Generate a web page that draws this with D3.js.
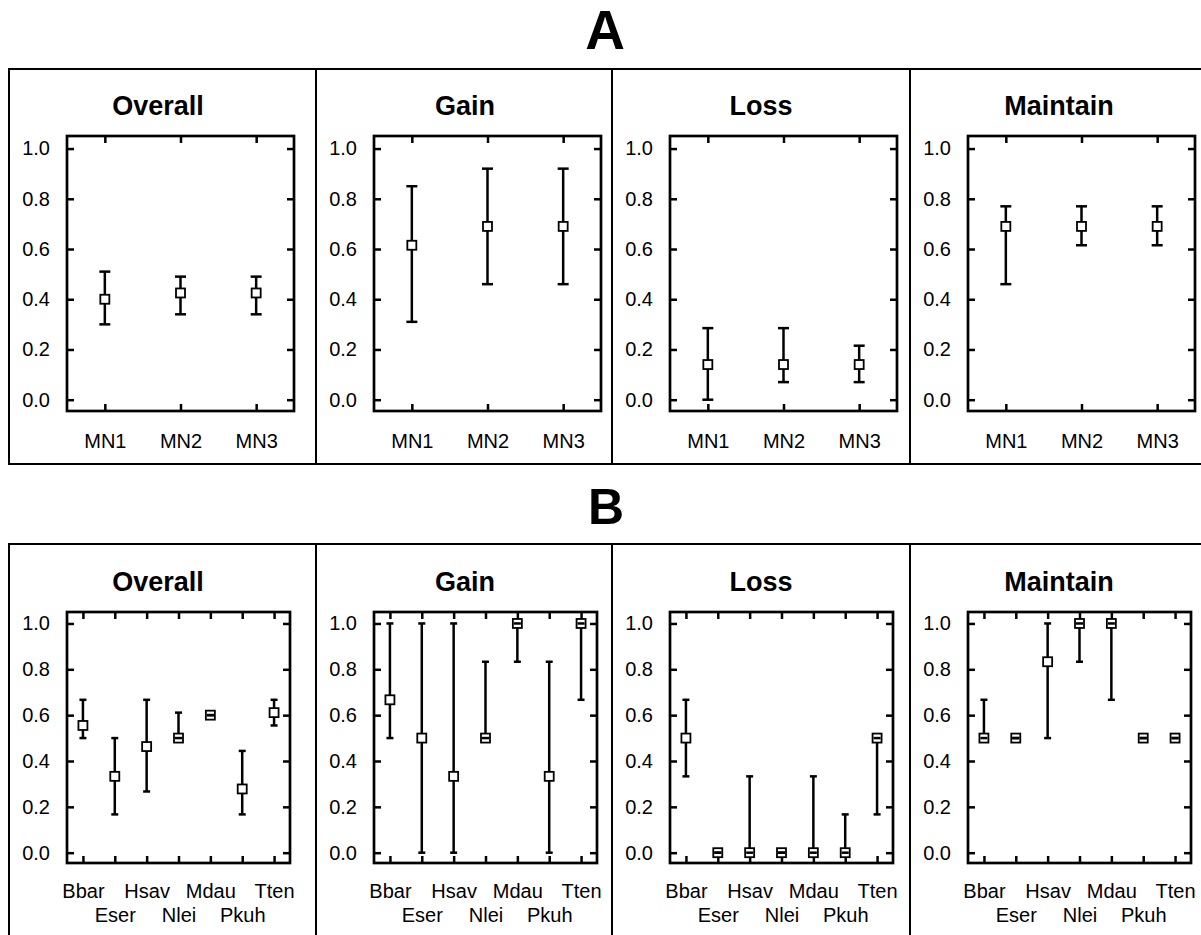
<!DOCTYPE html>
<html>
<head>
<meta charset="utf-8">
<script src="https://cdn.jsdelivr.net/npm/d3@7.9.0/dist/d3.min.js"></script>
<style>
  body { margin: 0; background: #fff; }
  svg { display: block; font-family: "Liberation Sans", Arial, sans-serif; }
</style>
</head>
<body>
<svg id="chart" width="1201" height="935"></svg>
<script>
// panel titles and categories
const panelTitles = ["Overall", "Gain", "Loss", "Maintain"];
const mnCats = ["MN1", "MN2", "MN3"];
const speciesCats = ["Bbar", "Eser", "Hsav", "Nlei", "Mdau", "Pkuh", "Tten"];
const yTicks = [0, 0.2, 0.4, 0.6, 0.8, 1.0];

// A: [mean, lower, upper] per MN
const mnOverall  = [[0.40, 0.30, 0.51], [0.425, 0.34, 0.49], [0.425, 0.34, 0.49]];
const mnGain     = [[0.615, 0.31, 0.85], [0.69, 0.46, 0.92], [0.69, 0.46, 0.92]];
const mnLoss     = [[0.14, 0.0, 0.285], [0.14, 0.07, 0.285], [0.14, 0.07, 0.215]];
const mnMaintain = [[0.69, 0.46, 0.77], [0.69, 0.615, 0.77], [0.69, 0.615, 0.77]];

// B: [mean, lower, upper] per species
const spOverall  = [[0.555, 0.5, 0.667], [0.333, 0.167, 0.5], [0.463, 0.267, 0.667], [0.5, 0.5, 0.611],
                    [0.6, 0.6, 0.6], [0.278, 0.167, 0.444], [0.611, 0.555, 0.667]];
const spGain     = [[0.667, 0.5, 1.0], [0.5, 0.0, 1.0], [0.333, 0.0, 1.0], [0.5, 0.5, 0.833],
                    [1.0, 0.833, 1.0], [0.333, 0.0, 0.833], [1.0, 0.667, 1.0]];
const spLoss     = [[0.5, 0.333, 0.667], [0.0, 0.0, 0.0], [0.0, 0.0, 0.333], [0.0, 0.0, 0.0],
                    [0.0, 0.0, 0.333], [0.0, 0.0, 0.167], [0.5, 0.167, 0.5]];
const spMaintain = [[0.5, 0.5, 0.667], [0.5, 0.5, 0.5], [0.833, 0.5, 1.0], [1.0, 0.833, 1.0],
                    [1.0, 0.667, 1.0], [0.5, 0.5, 0.5], [0.5, 0.5, 0.5]];

const svg = d3.select("#chart");
const frameX = [9, 316, 612, 910];

// section letters
svg.append("text").attr("x", 605).attr("y", 49).attr("text-anchor", "middle")
  .attr("font-size", 55).attr("font-weight", "bold").text("A");
svg.append("text").attr("x", 606).attr("y", 524).attr("text-anchor", "middle")
  .attr("font-size", 50).attr("font-weight", "bold").text("B");

function drawFrame(top, bottom) {
  svg.append("rect").attr("x", 9).attr("y", top).attr("width", 1210).attr("height", bottom - top)
    .attr("fill", "none").attr("stroke", "#000").attr("stroke-width", 2);
  frameX.slice(1).forEach(x => {
    svg.append("line").attr("x1", x).attr("x2", x).attr("y1", top).attr("y2", bottom)
      .attr("stroke", "#000").attr("stroke-width", 2);
  });
}

function drawPanel(opts) {
  const { left, top, width, height, title, cats, data, capHalf, twoRows } = opts;
  const g = svg.append("g");
  const x = d3.scalePoint().domain(cats).range([left, left + width]).padding(0.5);
  const y = d3.scaleLinear().domain([-0.045, 1.05]).range([top + height, top]);

  g.append("text").attr("x", left + 91).attr("y", top - 21).attr("text-anchor", "middle")
    .attr("font-size", 27).attr("font-weight", "bold").text(title);

  // axes with inward ticks
  const yl = g.append("g").attr("transform", `translate(${left},0)`)
    .call(d3.axisLeft(y).tickValues(yTicks).tickFormat(d3.format(".1f")).tickSize(-7).tickPadding(17));
  const yr = g.append("g").attr("transform", `translate(${left + width},0)`)
    .call(d3.axisRight(y).tickValues(yTicks).tickFormat("").tickSize(-7));
  const xt = g.append("g").attr("transform", `translate(0,${top})`)
    .call(d3.axisTop(x).tickFormat("").tickSize(-7));
  const xb = g.append("g").attr("transform", `translate(0,${top + height})`)
    .call(d3.axisBottom(x).tickSize(-7).tickPadding(twoRows ? 21 : 23));
  [yl, yr, xt, xb].forEach(a => {
    a.select(".domain").remove();
    a.selectAll("line").attr("stroke", "#000").attr("stroke-width", 2.5);
    a.selectAll("text").attr("font-size", 20).attr("fill", "#000")
      .attr("font-family", "Liberation Sans, Arial, sans-serif");
  });
  if (twoRows) {
    xb.selectAll(".tick text").filter((d, i) => i % 2 === 1)
      .attr("y", function () { return +d3.select(this).attr("y") + 24; });
  }

  g.append("rect").attr("x", left).attr("y", top).attr("width", width).attr("height", height)
    .attr("fill", "none").attr("stroke", "#000").attr("stroke-width", 2.7);

  const pts = g.selectAll("g.pt").data(data).join("g").attr("class", "pt");
  pts.append("line")
    .attr("x1", (d, i) => x(cats[i])).attr("x2", (d, i) => x(cats[i]))
    .attr("y1", d => y(d[1])).attr("y2", d => y(d[2]))
    .attr("stroke", "#000").attr("stroke-width", 2.5);
  pts.append("rect")
    .attr("x", (d, i) => x(cats[i]) - 4.5).attr("y", d => y(d[0]) - 4.5)
    .attr("width", 9).attr("height", 9)
    .attr("fill", "#fff").attr("stroke", "#000").attr("stroke-width", 1.8);
  [1, 2].forEach(k => {
    pts.append("line")
      .attr("x1", (d, i) => x(cats[i]) - capHalf).attr("x2", (d, i) => x(cats[i]) + capHalf)
      .attr("y1", d => y(d[k])).attr("y2", d => y(d[k]))
      .attr("stroke", "#000").attr("stroke-width", 2.5);
  });
}

drawFrame(69, 464);
drawFrame(544, 950);

const mnData = [mnOverall, mnGain, mnLoss, mnMaintain];
const spData = [spOverall, spGain, spLoss, spMaintain];

panelTitles.forEach((t, i) => {
  drawPanel({ left: frameX[i] + 58, top: 136, width: 227, height: 275, title: t,
    cats: mnCats, data: mnData[i], capHalf: 5.5, twoRows: false });
  drawPanel({ left: frameX[i] + 58, top: 612, width: 223, height: 251, title: t,
    cats: speciesCats, data: spData[i], capHalf: 3.5, twoRows: true });
});
</script>
</body>
</html>
